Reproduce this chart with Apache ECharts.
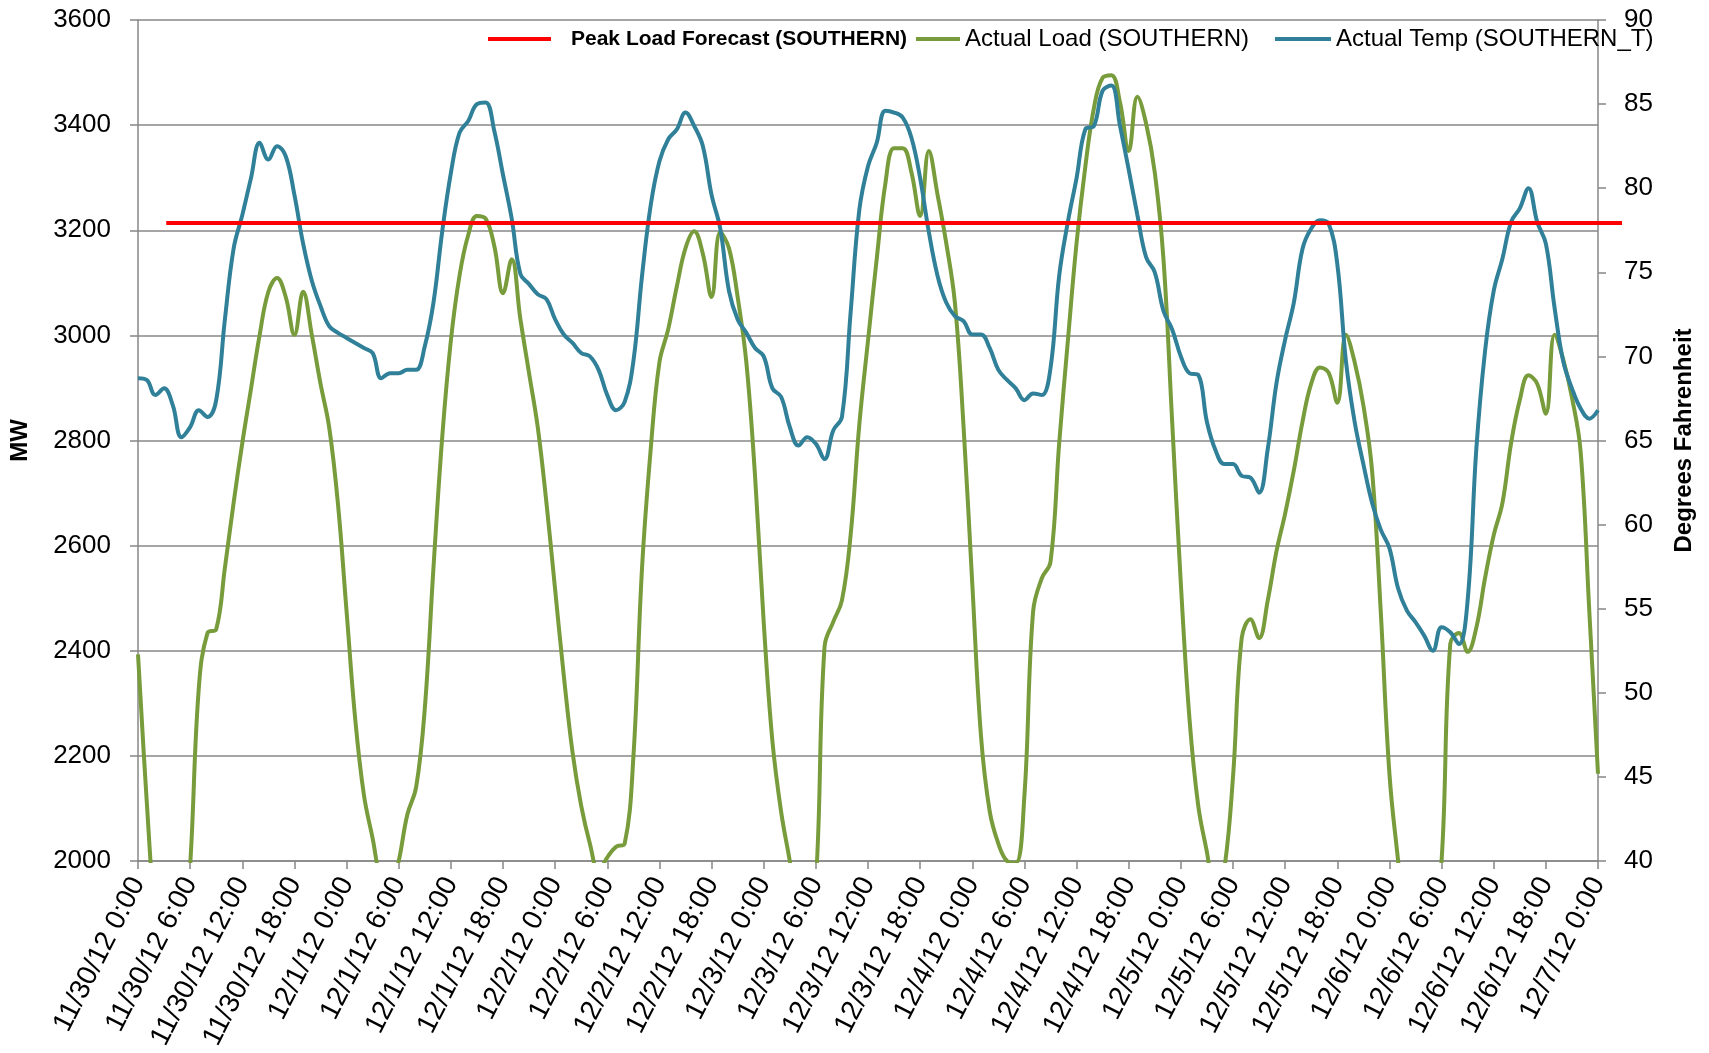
<!DOCTYPE html>
<html>
<head>
<meta charset="utf-8">
<title>Southern load vs temperature</title>
<script src="https://cdn.jsdelivr.net/npm/echarts@6/dist/echarts.min.js"></script>
<style>
  html, body { margin: 0; padding: 0; background: #fff; }
  #chart { width: 1709px; height: 1053px; }
</style>
</head>
<body>
<div id="chart"></div>
<script>
// x tick labels, one every 6 hours
var timeLabels = [
  "11/30/12 0:00", "11/30/12 6:00", "11/30/12 12:00", "11/30/12 18:00",
  "12/1/12 0:00", "12/1/12 6:00", "12/1/12 12:00", "12/1/12 18:00",
  "12/2/12 0:00", "12/2/12 6:00", "12/2/12 12:00", "12/2/12 18:00",
  "12/3/12 0:00", "12/3/12 6:00", "12/3/12 12:00", "12/3/12 18:00",
  "12/4/12 0:00", "12/4/12 6:00", "12/4/12 12:00", "12/4/12 18:00",
  "12/5/12 0:00", "12/5/12 6:00", "12/5/12 12:00", "12/5/12 18:00",
  "12/6/12 0:00", "12/6/12 6:00", "12/6/12 12:00", "12/6/12 18:00",
  "12/7/12 0:00"
];

// hourly actual load (MW), hour 0 = 11/30/12 0:00
var actualLoad = [
  2393, 2115, 1880, 1760, 1720, 1790, 1990, 2330, 2434, 2441, 2558, 2681,
  2795, 2898, 3001, 3083, 3109, 3073, 3001, 3083, 3001, 2908, 2825, 2681,
  2475, 2269, 2125, 2043, 1960, 1940, 2000, 2089, 2140, 2290, 2558, 2805,
  2990, 3114, 3191, 3227, 3222, 3170, 3080, 3145, 3031, 2928, 2825, 2681,
  2516, 2352, 2207, 2105, 2033, 1980, 2007, 2027, 2033, 2197, 2558, 2784,
  2949, 3011, 3093, 3166, 3198, 3155, 3073, 3196, 3166, 3073, 2949, 2733,
  2454, 2228, 2094, 2000, 1900, 1880, 1960, 2408, 2455, 2496, 2620, 2830,
  2990, 3145, 3289, 3356, 3356, 3310, 3227, 3351, 3268, 3176, 3062, 2825,
  2527, 2238, 2095, 2033, 2000, 1996, 2125, 2475, 2538, 2569, 2795, 2990,
  3176, 3320, 3433, 3490, 3495, 3443, 3351, 3454, 3403, 3310, 3145, 2836,
  2527, 2269, 2105, 2017, 1930, 1985, 2160, 2424, 2460, 2424, 2496, 2589,
  2661, 2743, 2836, 2908, 2939, 2929, 2872, 3001, 2949, 2867, 2743, 2475,
  2166, 2000, 1850, 1780, 1790, 1890, 2000, 2413, 2434, 2398, 2444, 2538,
  2620, 2681, 2795, 2877, 2924, 2908, 2851, 3001, 2954, 2882, 2779, 2475,
  2166
];

// hourly actual temperature (deg F)
var actualTemp = [
  68.7, 68.6, 67.7, 68.1, 67.1, 65.2, 65.8, 66.8, 66.4, 67.4, 72.2, 76.4,
  78.4, 80.6, 82.7, 81.7, 82.5, 81.9, 79.6, 76.7, 74.5, 73.0, 71.8, 71.4,
  71.1, 70.8, 70.5, 70.2, 68.7, 69.0, 69.0, 69.2, 69.2, 70.6, 73.2, 77.4,
  80.9, 83.3, 84.0, 85.0, 85.1, 83.4, 80.8, 78.2, 74.9, 74.3, 73.7, 73.4,
  72.2, 71.3, 70.8, 70.2, 70.0, 69.2, 67.7, 66.8, 67.3, 69.7, 74.8, 79.0,
  81.6, 82.9, 83.5, 84.5, 83.7, 82.5, 79.6, 77.6, 73.9, 72.2, 71.4, 70.5,
  70.0, 68.1, 67.6, 65.8, 64.7, 65.2, 64.8, 63.9, 65.6, 66.4, 72.6, 78.7,
  81.3, 82.7, 84.6, 84.5, 84.2, 83.0, 80.6, 77.4, 74.8, 73.2, 72.4, 72.1,
  71.3, 71.3, 70.5, 69.2, 68.6, 68.1, 67.4, 67.8, 67.7, 69.3, 74.8, 78.0,
  80.6, 83.5, 83.7, 85.8, 86.1, 83.7, 81.1, 78.4, 75.9, 75.0, 72.7, 71.6,
  70.0, 69.0, 68.9, 66.1, 64.4, 63.6, 63.6, 62.9, 62.8, 61.9, 64.5, 68.4,
  71.0, 73.2, 76.4, 77.6, 78.1, 77.9, 75.5, 69.7, 66.1, 63.6, 61.3, 59.7,
  58.6, 56.2, 54.9, 54.2, 53.4, 52.5, 53.9, 53.6, 52.9, 55.5, 64.5, 70.3,
  73.9, 75.8, 78.0, 78.8, 80.0, 78.0, 76.7, 72.9, 69.7, 68.1, 66.9, 66.3,
  66.8
];

// peak load forecast, flat line (hour, MW); it runs a bit past the last hour
var peakForecast = [[3.25, 3214], [170.76, 3214]];

var loadColor = "#789b3b";
var tempColor = "#2f8098";
var peakColor = "#ff0000";
var gridColor = "#878787";
var labelFont = "Liberation Sans";

var toPairs = function(arr) {
  var out = [], i;
  for (i = 0; i < arr.length; i++) {
    out.push([i, arr[i]]);
  }
  return out;
};

var legendBase = function(left, width, item) {
  return {
    left: left,
    top: 20,
    icon: "rect",
    itemWidth: width,
    itemHeight: 4,
    itemGap: 0,
    selectedMode: false,
    data: [item],
    textStyle: {
      fontFamily: labelFont,
      fontSize: 24,
      color: "#000",
      lineHeight: 28
    }
  };
};

var chart = echarts.init(document.getElementById("chart"), null, { renderer: "canvas" });

var options = {
  animation: false,
  backgroundColor: "#fff",
  grid: [
    { left: 138, right: 111, top: 20, bottom: 192, containLabel: false },
    // same plot, widened on the right so the forecast line can overrun the axis
    { left: 138, right: 87, top: 20, bottom: 192, containLabel: false }
  ],
  legend: [
    legendBase(483, 63, {
      name: "Peak Load Forecast (SOUTHERN)",
      textStyle: { fontWeight: "bold", fontSize: 21, padding: [0, 0, 0, 15] }
    }),
    legendBase(911, 44, { name: "Actual Load (SOUTHERN)" }),
    legendBase(1270, 56, { name: "Actual Temp (SOUTHERN_T)" })
  ],
  xAxis: [
    {
      type: "value",
      gridIndex: 0,
      min: 0,
      max: 168,
      interval: 6,
      axisLine: { lineStyle: { color: gridColor, width: 1.5 } },
      axisTick: { show: true, length: 8, lineStyle: { color: gridColor, width: 1.5 } },
      splitLine: { show: false },
      axisLabel: {
        rotate: 63,
        margin: 18,
        fontFamily: labelFont,
        fontSize: 28,
        color: "#000",
        formatter: function(v) {
          return timeLabels[Math.round(v / 6)];
        }
      }
    },
    {
      type: "value",
      gridIndex: 1,
      min: 0,
      max: 170.76,
      show: false
    }
  ],
  yAxis: [
    {
      type: "value",
      gridIndex: 0,
      min: 2000,
      max: 3600,
      interval: 200,
      name: "MW",
      nameLocation: "middle",
      nameRotate: 90,
      nameGap: 106,
      nameTextStyle: { fontFamily: labelFont, fontWeight: "bold", fontSize: 24, color: "#000" },
      axisLine: { show: true, lineStyle: { color: gridColor, width: 1.5 } },
      axisTick: { show: true, length: 8, lineStyle: { color: gridColor, width: 1.5 } },
      splitLine: { show: true, lineStyle: { color: gridColor, width: 1.5 } },
      axisLabel: {
        margin: 27,
        fontFamily: labelFont,
        fontSize: 26,
        color: "#000",
        formatter: function(v) { return String(v); }
      }
    },
    {
      type: "value",
      gridIndex: 0,
      min: 40,
      max: 90,
      interval: 5,
      position: "right",
      name: "Degrees Fahrenheit",
      nameLocation: "middle",
      nameRotate: 90,
      nameGap: 74,
      nameTextStyle: { fontFamily: labelFont, fontWeight: "bold", fontSize: 24, color: "#000" },
      axisLine: { show: true, lineStyle: { color: gridColor, width: 1.5 } },
      axisTick: { show: true, length: 8, lineStyle: { color: gridColor, width: 1.5 } },
      splitLine: { show: false },
      axisLabel: { margin: 26, fontFamily: labelFont, fontSize: 26, color: "#000" }
    },
    {
      type: "value",
      gridIndex: 1,
      min: 2000,
      max: 3600,
      show: false
    }
  ],
  series: [
    {
      name: "Actual Load (SOUTHERN)",
      type: "line",
      xAxisIndex: 0,
      yAxisIndex: 0,
      data: toPairs(actualLoad),
      symbol: "none",
      smooth: 0.4,
      clip: true,
      z: 3,
      color: loadColor,
      lineStyle: { color: loadColor, width: 4 }
    },
    {
      name: "Actual Temp (SOUTHERN_T)",
      type: "line",
      xAxisIndex: 0,
      yAxisIndex: 1,
      data: toPairs(actualTemp),
      symbol: "none",
      smooth: 0.4,
      clip: true,
      z: 4,
      color: tempColor,
      lineStyle: { color: tempColor, width: 4 }
    },
    {
      name: "Peak Load Forecast (SOUTHERN)",
      type: "line",
      xAxisIndex: 1,
      yAxisIndex: 2,
      data: peakForecast,
      symbol: "none",
      clip: false,
      z: 5,
      color: peakColor,
      lineStyle: { color: peakColor, width: 4 }
    }
  ]
};

chart.setOption(options);
</script>
</body>
</html>
